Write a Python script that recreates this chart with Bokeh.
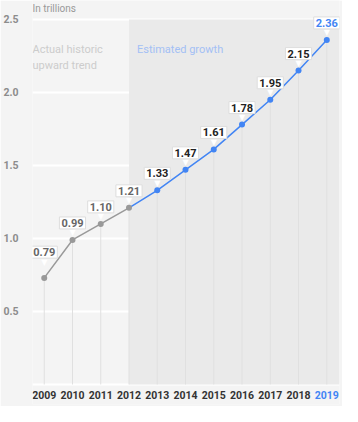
from bokeh.plotting import figure
from bokeh.models import ColumnDataSource, Range1d, FixedTicker, BoxAnnotation, Label
from bokeh.core.properties import value
from bokeh.embed import file_html
from bokeh.resources import INLINE

# ---- data ----
years = [2009, 2010, 2011, 2012, 2013, 2014, 2015, 2016, 2017, 2018, 2019]
point_values = [0.73, 0.99, 1.10, 1.21, 1.33, 1.47, 1.61, 1.78, 1.95, 2.15, 2.36]
label_values = [0.79, 0.99, 1.10, 1.21, 1.33, 1.47, 1.61, 1.78, 1.95, 2.15, 2.36]
label_texts = ["0.79", "0.99", "1.10", "1.21", "1.33", "1.47", "1.61", "1.78", "1.95", "2.15", "2.36"]
y_ticks = [0, 0.5, 1.0, 1.5, 2.0, 2.5]
y_tick_labels = ["", "0.5", "1.0", "1.5", "2.0", "2.5"]
x_tick_labels = [str(y) for y in years]
last_actual_year = 2012
unit_label = "In trillions"
note_actual = "Actual historic\nupward trend"
note_estimate = "Estimated growth"

FONT = value("Roboto")
GRAY = "#999999"
BLUE = "#4285f4"

X0, X1 = 2008.585, 2019.45
Y_MIN, Y_MAX = 0.0, 2.5

p = figure(width=342, height=406, output_backend="svg", toolbar_location=None,
           x_range=Range1d(X0, X1), y_range=Range1d(-0.137, 2.63),
           min_border_left=25, min_border_right=3, min_border_top=0, min_border_bottom=2)
p.background_fill_color = "#f4f4f4"
p.border_fill_color = "#f4f4f4"
p.outline_line_color = None

# shaded estimated region
p.add_layout(BoxAnnotation(left=last_actual_year, bottom=Y_MIN, top=Y_MAX, fill_color="#eaeaea",
                           fill_alpha=1.0, line_color=None, level="underlay"))

# grid
p.xgrid.grid_line_color = None
p.ygrid.ticker = FixedTicker(ticks=y_ticks)
p.ygrid.grid_line_color = "white"
p.ygrid.grid_line_width = 2

# axes
p.xaxis.visible = False
p.yaxis.ticker = FixedTicker(ticks=y_ticks)
p.yaxis.major_label_overrides = {t: l for t, l in zip(y_ticks, y_tick_labels)}
p.yaxis.axis_line_color = None
p.yaxis.major_tick_line_color = None
p.yaxis.minor_tick_line_color = None
p.yaxis.major_label_text_font = "Roboto"
p.yaxis.major_label_text_font_style = "bold"
p.yaxis.major_label_text_font_size = "10.5px"
p.yaxis.major_label_text_color = "#8c8c8c"
p.yaxis.major_label_standoff = 8

# drop lines
p.segment(x0=years, y0=[Y_MIN] * len(years), x1=years, y1=point_values,
          line_color="#e0e0e0", line_width=1)

# lines
n_act = years.index(last_actual_year) + 1
p.line(years[:n_act], point_values[:n_act], line_color=GRAY, line_width=1.5)
p.line(years[n_act - 1:], point_values[n_act - 1:], line_color=BLUE, line_width=1.5)
p.scatter(years[:n_act], point_values[:n_act], size=6, fill_color=GRAY, line_color=None)
p.scatter(years[n_act:], point_values[n_act:], size=6, fill_color=BLUE, line_color=None)

# value labels
label_colors = ["#666666" if y <= last_actual_year else "#222222" for y in years]
label_colors[-1] = BLUE
src = ColumnDataSource(dict(x=years, y=label_values, t=label_texts, c=label_colors,
                            tri=["\u25bc"] * len(years)))
p.text(x="x", y="y", text="tri", source=src, text_align="center", text_baseline="middle",
       y_offset=-7, text_font=value("DejaVu Sans"), text_font_size="8px", text_color="white")
p.text(x="x", y="y", text="t", source=src, text_align="center", text_baseline="bottom",
       y_offset=-11, text_font=FONT, text_font_size="11px", text_font_style="bold",
       text_color="c", background_fill_color="white", border_line_color="#dddddd",
       border_line_width=1, padding=2)

# x tick labels (last year highlighted)
tick_colors = ["#333333"] * (len(years) - 1) + [BLUE]
xsrc = ColumnDataSource(dict(x=years, y=[Y_MIN] * len(years), t=x_tick_labels, c=tick_colors))
p.text(x="x", y="y", text="t", source=xsrc, text_align="center", text_baseline="top",
       y_offset=7, text_font=FONT, text_font_size="10.5px", text_font_style="bold",
       text_color="c")

# texts
p.add_layout(Label(x=X0, y=Y_MAX, y_offset=16, text=unit_label, text_baseline="top",
                   text_font="Roboto", text_font_size="10px", text_color="#999999"))
p.add_layout(Label(x=X0, y=Y_MAX, y_offset=-24, text=note_actual, text_baseline="top",
                   text_font="Roboto", text_font_size="11px", text_color="#cccccc"))
p.add_layout(Label(x=last_actual_year, x_offset=8, y=Y_MAX, y_offset=-24, text=note_estimate,
                   text_baseline="top", text_font="Roboto", text_font_size="11px",
                   text_color="#a3c0f5"))

open("out.html", "w").write(file_html(p, INLINE))
